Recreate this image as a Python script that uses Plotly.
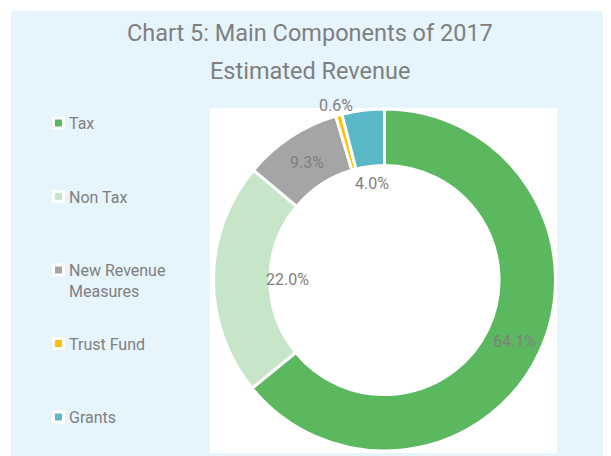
import math
import plotly.graph_objects as go

# ---------------- data ----------------
categories = ["Tax", "Non Tax", "New Revenue Measures", "Trust Fund", "Grants"]
legend_labels = ["Tax", "Non Tax", "New Revenue<br>Measures", "Trust Fund", "Grants"]
shares = [64.1, 22.0, 9.3, 0.6, 4.0]
colors = ["#5cb85f", "#c7e6c9", "#a5a5a5", "#ffc000", "#5bb8c8"]
title_lines = ["Chart 5: Main Components of 2017", "Estimated Revenue"]

# ---------------- layout helpers (page pixel -> paper) ----------------
OFF = 8            # default body margin of the html page
W, H = 611 - OFF, 456 - OFF
def px(x):
    return (x - OFF) / W
def py(y):
    return 1 - (y - OFF) / H

FONT = "Roboto, 'Open Sans', sans-serif"
GREY = "#7f7f7f"

# donut geometry (page pixels)
CX, CY, R = 384.5, 280.0, 171.0
HOLE = 0.67
# label radius factor per slice (style: Excel-like label placement)
label_rf = [0.84, 0.57, 0.825, 1.06, 0.57]

fig = go.Figure()
fig.add_trace(go.Pie(
    labels=categories,
    values=shares,
    sort=False,
    direction="clockwise",
    rotation=0,
    hole=HOLE,
    marker=dict(colors=colors, line=dict(color="white", width=3)),
    textinfo="none",
    showlegend=False,
    domain=dict(x=[px(CX - R), px(CX + R)], y=[py(CY + R), py(CY - R)]),
))

shapes = [
    # light-blue chart panel
    dict(type="rect", xref="paper", yref="paper", x0=px(11), x1=px(611), y0=py(456), y1=py(11),
         fillcolor="#e6f4fc", line=dict(width=0), layer="below"),
    # white plot area
    dict(type="rect", xref="paper", yref="paper", x0=px(210), x1=px(557), y0=py(453), y1=py(108),
         fillcolor="white", line=dict(width=0), layer="below"),
]
annotations = []

# title (two lines)
for i, t in enumerate(title_lines):
    annotations.append(dict(text=t, xref="paper", yref="paper", x=px(310), y=py(33 + i * 38.5),
                            xanchor="center", yanchor="middle", showarrow=False,
                            font=dict(family=FONT, size=23.5, color=GREY)))

# data labels computed from the cumulative shares
total = sum(shares)
cum = 0.0
for v, rf in zip(shares, label_rf):
    mid = (cum + v / 2) / total
    cum += v
    ang = 2 * math.pi * mid
    x = CX + rf * R * math.sin(ang)
    y = CY - rf * R * math.cos(ang)
    annotations.append(dict(text=f"{v:.1f}%", xref="paper", yref="paper", x=px(x), y=py(y),
                            xanchor="center", yanchor="middle", showarrow=False,
                            font=dict(family=FONT, size=16, color=GREY)))

# manual legend (Excel-style, evenly spread)
LEG_Y0, LEG_STEP, SQ_X = 123.0, 73.5, 58.5
for i, (lab, col) in enumerate(zip(legend_labels, colors)):
    yc = LEG_Y0 + i * LEG_STEP
    shapes.append(dict(type="rect", xref="paper", yref="paper",
                       x0=px(SQ_X - 6.5), x1=px(SQ_X + 6.5), y0=py(yc + 6.5), y1=py(yc - 6.5),
                       fillcolor="white", line=dict(width=0)))
    shapes.append(dict(type="rect", xref="paper", yref="paper",
                       x0=px(SQ_X - 3.5), x1=px(SQ_X + 3.5), y0=py(yc + 3.5), y1=py(yc - 3.5),
                       fillcolor=col, line=dict(width=0)))
    annotations.append(dict(text=lab, xref="paper", yref="paper", x=px(67), y=py(yc - 11),
                            xanchor="left", yanchor="top", align="left", showarrow=False,
                            font=dict(family=FONT, size=16, color=GREY)))

fig.update_layout(
    width=W, height=H,
    margin=dict(l=0, r=0, t=0, b=0),
    paper_bgcolor="white",
    plot_bgcolor="white",
    shapes=shapes,
    annotations=annotations,
)

fig.write_html("out.html")
